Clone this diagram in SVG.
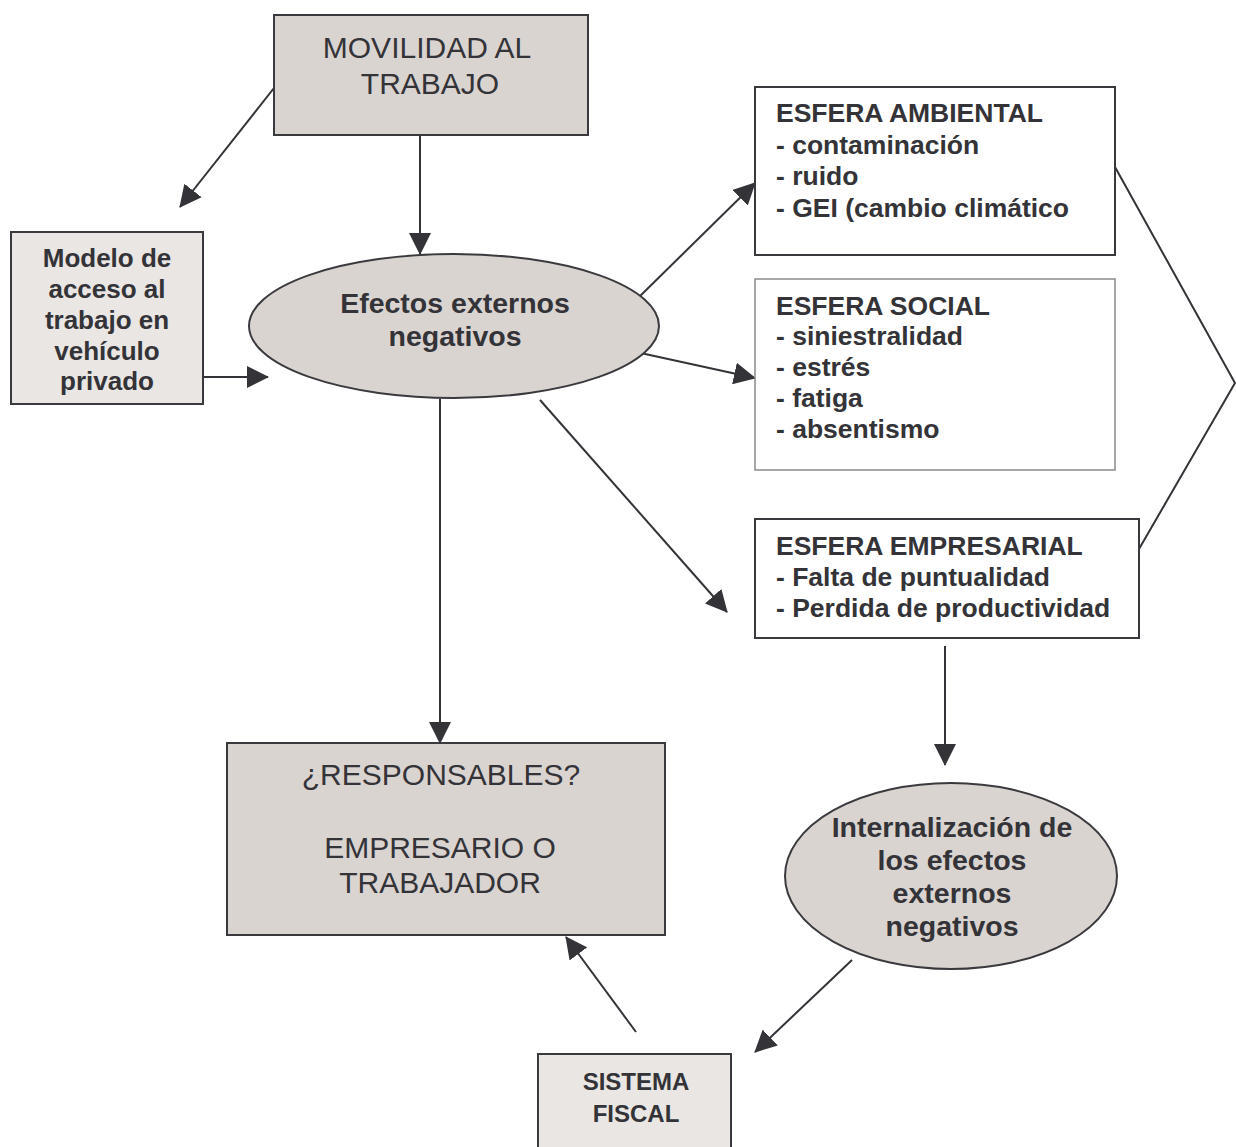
<svg xmlns="http://www.w3.org/2000/svg" width="1236" height="1147" viewBox="0 0 1236 1147">
<defs>
<marker id="ah" markerUnits="userSpaceOnUse" markerWidth="22" markerHeight="22" viewBox="0 0 22 22" refX="21" refY="11" orient="auto">
<path d="M0,0 L22,11 L0,22 z" fill="#333338"/>
</marker>
<style>
.dark{fill:#dad4d1;stroke:#3a3a3e;stroke-width:2}
.light{fill:#e9e6e3;stroke:#3a3a3e;stroke-width:2}
.white{fill:#fff;stroke:#3a3a3e;stroke-width:2}
.whiteg{fill:#fff;stroke:#8a8a8a;stroke-width:1.5}
.con{stroke:#333338;stroke-width:2;fill:none}
text{font-family:"Liberation Sans",Arial,sans-serif;fill:#333338}
.reg{font-size:30px}
.b{font-weight:bold}
.mid{text-anchor:middle}
.es{font-size:26.5px;font-weight:bold}
.el{font-size:28.5px;font-weight:bold;text-anchor:middle}
</style>
</defs>
<g id="connectors">
<line class="con" x1="274" y1="88" x2="180" y2="207" marker-end="url(#ah)"/>
<line class="con" x1="420" y1="135" x2="420" y2="254" marker-end="url(#ah)"/>
<line class="con" x1="203" y1="377" x2="268" y2="377" marker-end="url(#ah)"/>
<line class="con" x1="636" y1="300" x2="755" y2="183" marker-end="url(#ah)"/>
<line class="con" x1="636" y1="352" x2="755" y2="378" marker-end="url(#ah)"/>
<line class="con" x1="540" y1="400" x2="727" y2="612" marker-end="url(#ah)"/>
<line class="con" x1="440" y1="399" x2="440" y2="743" marker-end="url(#ah)"/>
<line class="con" x1="945" y1="646" x2="945" y2="765" marker-end="url(#ah)"/>
<line class="con" x1="852" y1="960" x2="755" y2="1052" marker-end="url(#ah)"/>
<line class="con" x1="636" y1="1032" x2="566" y2="937" marker-end="url(#ah)"/>
<polyline class="con" points="1115,167 1235,383 1139,549"/>
</g>
<g id="movilidad">
<rect class="dark" x="274" y="15" width="314" height="120"/>
<text class="reg mid" x="427" y="58">MOVILIDAD AL</text>
<text class="reg mid" x="430" y="94">TRABAJO</text>
</g>
<g id="modelo">
<rect class="light" x="11" y="232" width="192" height="172"/>
<text class="b mid" font-size="26" x="107" y="267">Modelo de</text>
<text class="b mid" font-size="26" x="107" y="298">acceso al</text>
<text class="b mid" font-size="26" x="107" y="329">trabajo en</text>
<text class="b mid" font-size="26" x="107" y="360">vehículo</text>
<text class="b mid" font-size="26" x="107" y="390">privado</text>
</g>
<g id="efectos">
<ellipse class="dark" cx="454" cy="326" rx="205" ry="72"/>
<text class="el" x="455" y="313">Efectos externos</text>
<text class="el" x="455" y="346">negativos</text>
</g>
<g id="ambiental">
<rect class="white" x="755" y="87" width="360" height="168"/>
<text class="es" x="776" y="122">ESFERA AMBIENTAL</text>
<text class="es" x="776" y="154">- contaminación</text>
<text class="es" x="776" y="185">- ruido</text>
<text class="es" x="776" y="217">- GEI (cambio climático</text>
</g>
<g id="social">
<rect class="whiteg" x="755" y="279" width="360" height="191"/>
<text class="es" x="776" y="315">ESFERA SOCIAL</text>
<text class="es" x="776" y="345">- siniestralidad</text>
<text class="es" x="776" y="376">- estrés</text>
<text class="es" x="776" y="407">- fatiga</text>
<text class="es" x="776" y="438">- absentismo</text>
</g>
<g id="empresarial">
<rect class="white" x="755" y="519" width="384" height="119"/>
<text class="es" x="776" y="555">ESFERA EMPRESARIAL</text>
<text class="es" x="776" y="586">- Falta de puntualidad</text>
<text class="es" x="776" y="617">- Perdida de productividad</text>
</g>
<g id="responsables">
<rect class="dark" x="227" y="743" width="438" height="192"/>
<text class="reg mid" x="441" y="785">¿RESPONSABLES?</text>
<text class="reg mid" x="440" y="858">EMPRESARIO O</text>
<text class="reg mid" x="440" y="893">TRABAJADOR</text>
</g>
<g id="internalizacion">
<ellipse class="dark" cx="951" cy="876" rx="166" ry="93"/>
<text class="el" x="952" y="837">Internalización de</text>
<text class="el" x="952" y="870">los efectos</text>
<text class="el" x="952" y="903">externos</text>
<text class="el" x="952" y="936">negativos</text>
</g>
<g id="sistema">
<rect class="light" x="538" y="1054" width="193" height="100"/>
<text class="b mid" font-size="24" x="636" y="1090">SISTEMA</text>
<text class="b mid" font-size="24" x="636" y="1122">FISCAL</text>
</g>
</svg>
